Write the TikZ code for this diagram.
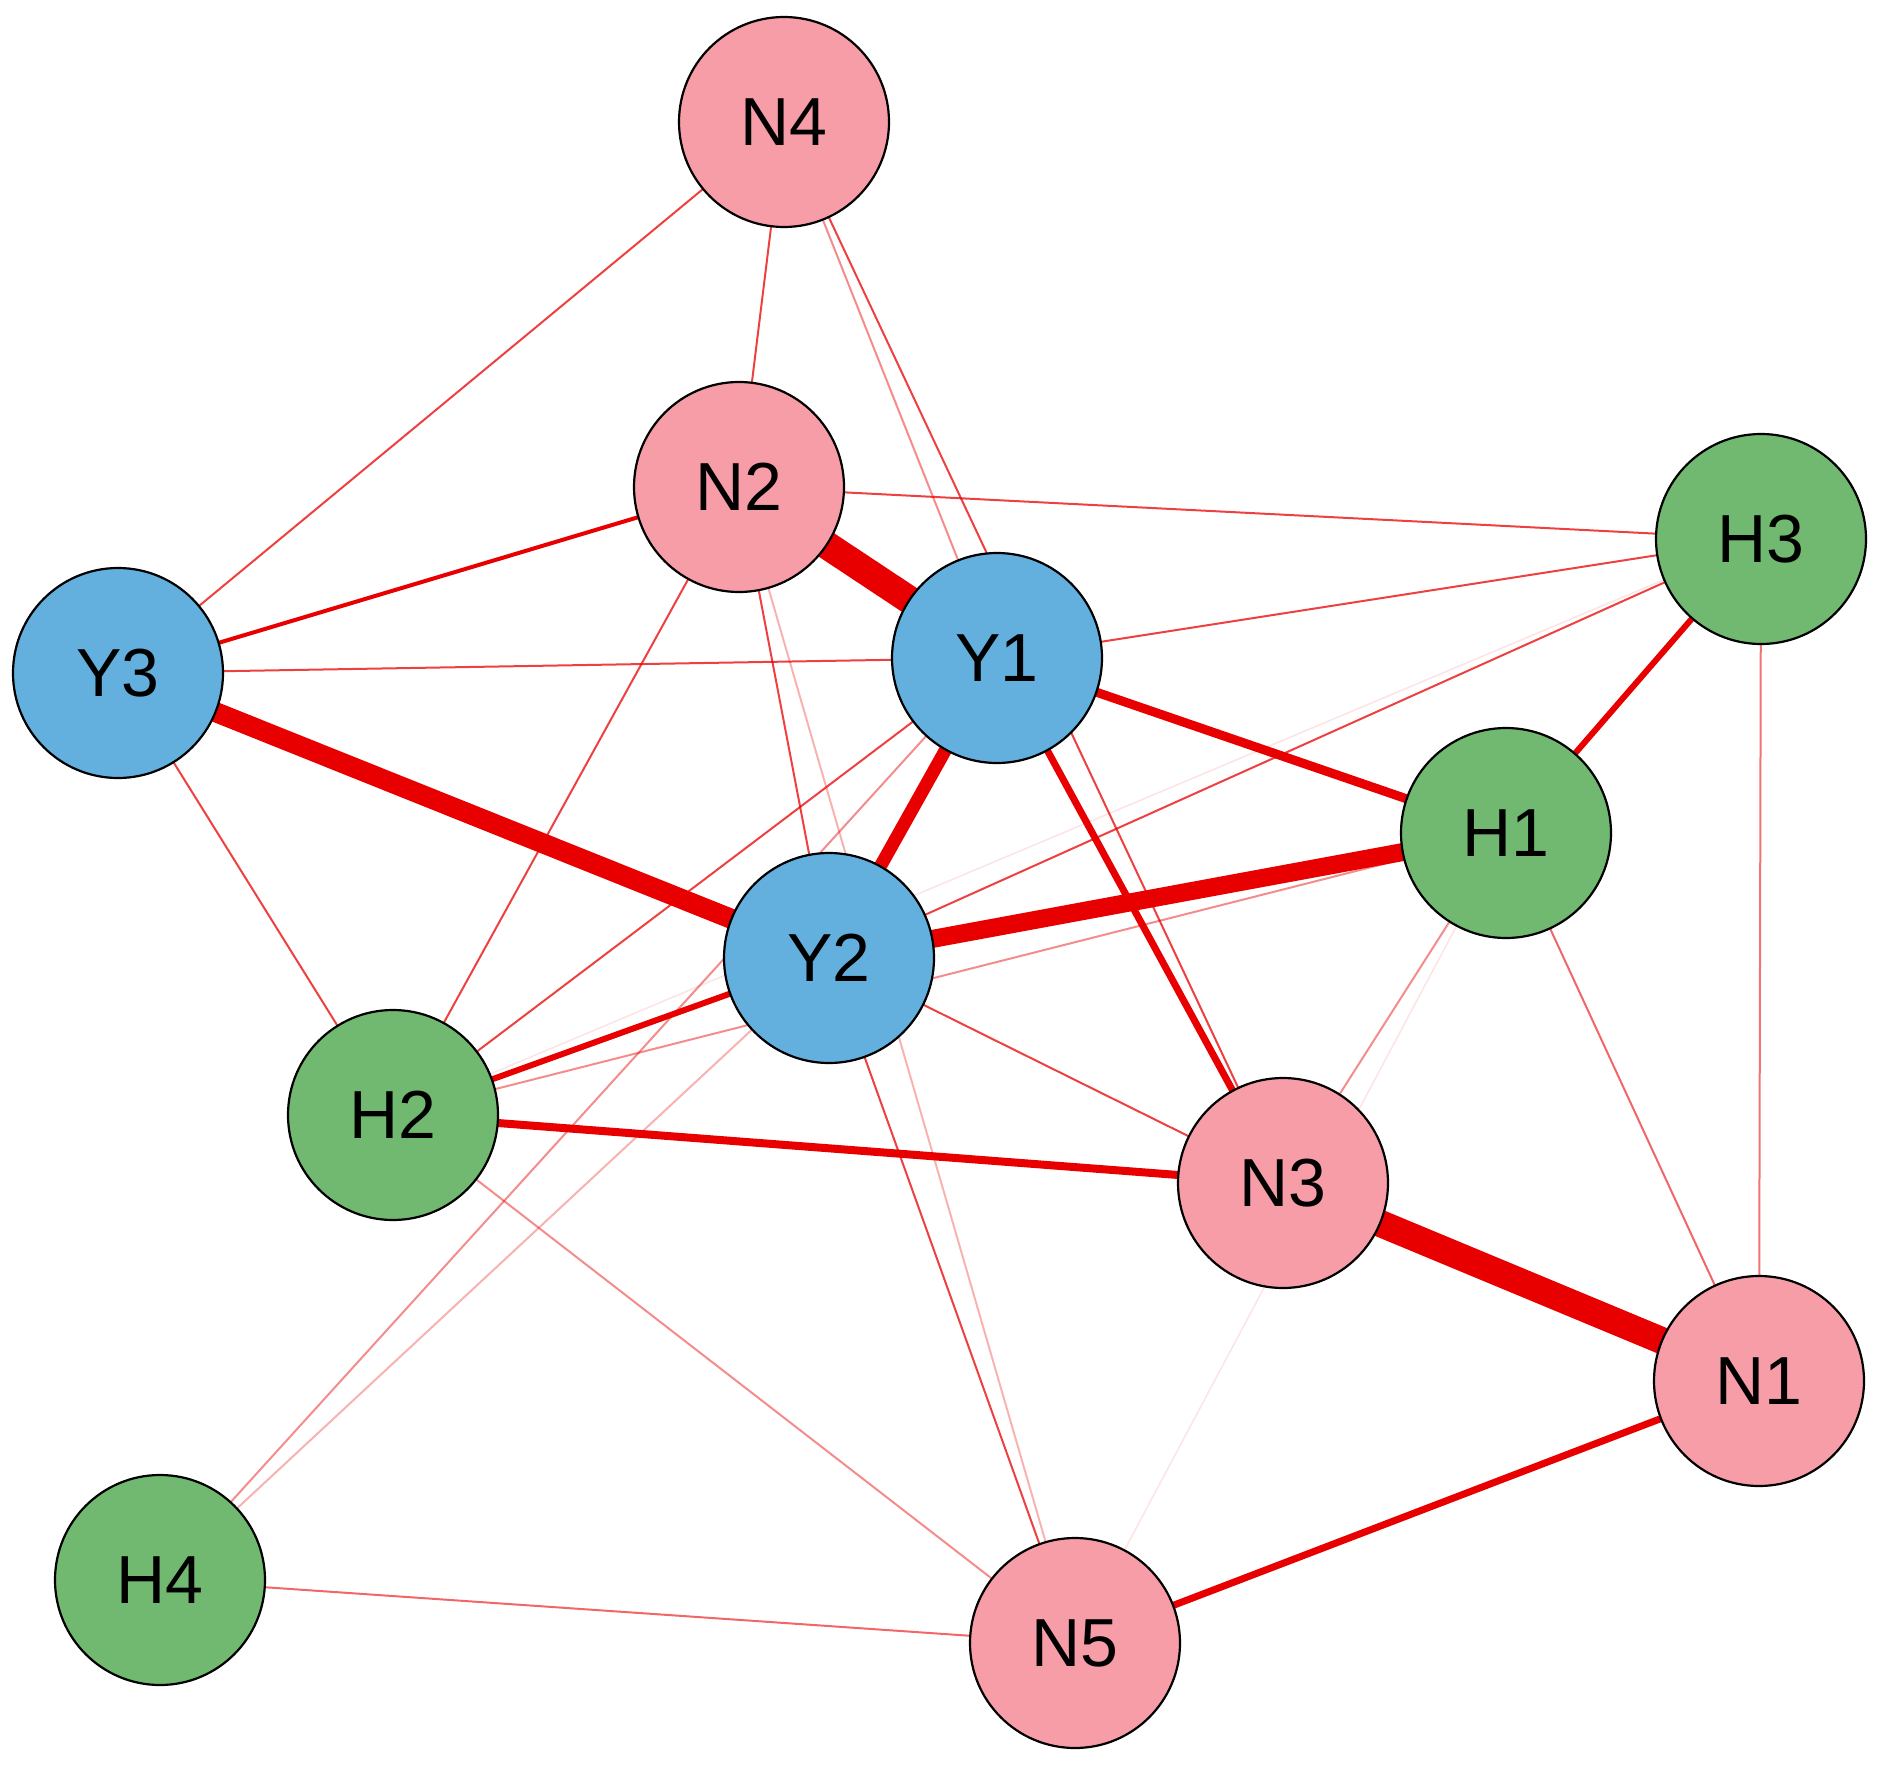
\documentclass[tikz,border=0pt]{standalone}
\usepackage{fontspec}
\setmainfont{Liberation Sans}
\pgfdeclarelayer{bg}
\pgfsetlayers{bg,main}
\definecolor{pinkN}{RGB}{246,157,167}
\definecolor{blueY}{RGB}{99,175,222}
\definecolor{greenH}{RGB}{113,184,113}
\definecolor{edgered}{RGB}{232,0,0}
\tikzset{
  vtx/.style={circle, draw=black, line width=2.2pt, minimum size=210pt, inner sep=0pt,
    font=\fontsize{68}{80}\selectfont},
  nN/.style={vtx, fill=pinkN},
  nY/.style={vtx, fill=blueY},
  nH/.style={vtx, fill=greenH},
  ed/.style={draw=edgered, line width=#1},
  ed/.default=2pt,
  thinA/.style={ed=2pt, draw opacity=0.75},
  thinB/.style={ed=2pt, draw opacity=0.45},
  thinC/.style={ed=1.6pt, draw opacity=0.1},
}
\begin{document}
\begin{tikzpicture}[x=1pt,y=-1pt]
\useasboundingbox (0,0) rectangle (1888,1776);
\node[nN] (N4) at (784,122) {N4};
\node[nN] (N2) at (739,487) {N2};
\node[nY] (Y3) at (118,673) {Y3};
\node[nY] (Y1) at (997,658) {Y1};
\node[nH] (H3) at (1761,539) {H3};
\node[nH] (H1) at (1506,833) {H1};
\node[nY] (Y2) at (829,958) {Y2};
\node[nH] (H2) at (393,1115) {H2};
\node[nN] (N3) at (1283,1183) {N3};
\node[nN] (N1) at (1759,1381) {N1};
\node[nH] (H4) at (160,1580) {H4};
\node[nN] (N5) at (1075,1643) {N5};
\begin{pgfonlayer}{bg}
% very faint
\draw[thinC] (H1.center) -- (N5.center);
\draw[thinC] (H2.center) -- (H3.center);
% light
\draw[thinB] (N4.center) -- (Y1.center);
\draw[thinB, draw opacity=0.3] (N2.center) -- (N5.center);
\draw[thinB, draw opacity=0.3] (H4.center) -- (Y2.center);
\draw[thinB] (H4.center) -- (Y1.center);
\draw[thinB] (H2.center) -- (H1.center);
\draw[thinB] (H1.center) -- (N3.center);
\draw[thinB] (H2.center) -- (N5.center);
\draw[thinB, draw opacity=0.55] (H3.center) -- (N1.center);
\draw[thinB, draw opacity=0.6] (H1.center) -- (N1.center);
\draw[thinB, draw opacity=0.6] (H4.center) -- (N5.center);
% thin
\draw[thinA] (N4.center) -- (Y3.center);
\draw[thinA] (N4.center) -- (N2.center);
\draw[thinA] (N4.center) -- (N3.center);
\draw[thinA] (N2.center) -- (H3.center);
\draw[thinA] (N2.center) -- (H2.center);
\draw[thinA] (N2.center) -- (Y2.center);
\draw[thinA] (Y3.center) -- (Y1.center);
\draw[thinA] (Y3.center) -- (H2.center);
\draw[thinA] (Y1.center) -- (H3.center);
\draw[thinA] (Y1.center) -- (H2.center);
\draw[thinA] (H3.center) -- (Y2.center);
\draw[thinA] (Y2.center) -- (N3.center);
\draw[thinA] (Y2.center) -- (N5.center);
% medium and thick
\draw[ed=4pt] (Y3.center) -- (N2.center);
\draw[ed=6pt] (H2.center) -- (Y2.center);
\draw[ed=6pt] (H3.center) -- (H1.center);
\draw[ed=7pt] (N1.center) -- (N5.center);
\draw[ed=7pt] (Y1.center) -- (N3.center);
\draw[ed=8pt] (H2.center) -- (N3.center);
\draw[ed=9pt] (Y1.center) -- (H1.center);
\draw[ed=13pt] (Y1.center) -- (Y2.center);
\draw[ed=18pt] (Y2.center) -- (H1.center);
\draw[ed=20pt] (Y3.center) -- (Y2.center);
\draw[ed=27pt] (N3.center) -- (N1.center);
\draw[ed=28pt] (N2.center) -- (Y1.center);
\end{pgfonlayer}
\end{tikzpicture}
\end{document}
